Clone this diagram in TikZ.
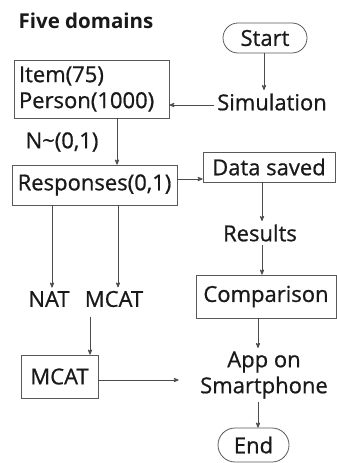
\documentclass[tikz,border=0pt]{standalone}
\usepackage{fontspec}
\setmainfont{Open Sans}[UprightFeatures={FakeBold=0.8}]
\usetikzlibrary{arrows}

\begin{document}
\begin{tikzpicture}[x=1pt,y=-1pt,
  every node/.style={font=\fontsize{22}{26}\selectfont, text=black!90},
  box/.style={draw=black!65, thick, inner sep=0pt},
  term/.style={draw=black!65, thick, rounded corners=15pt, inner sep=0pt},
  conn/.style={black!70, thick, ->, >=stealth'}]
\useasboundingbox (0,0) rectangle (337,463);
% left column
\node[font=\fontsize{20.5}{26}\selectfont\bfseries] (domains) at (86,21) {Five domains};
\node[box, minimum width=155, minimum height=58, text width=145, align=left] (item) at (91.5,89) {Item(75)\\Person(1000)};
\node (normal) at (62,142) {N\textasciitilde(0,1)};
\node[box, minimum width=165, minimum height=40] (resp) at (94.5,185) {Responses(0,1)};
\node (nat) at (49,299) {NAT};
\node (mcatt) at (114,299) {MCAT};
\node[box, minimum width=77, minimum height=43] (mcatb) at (59.5,376.5) {MCAT};
% right column
\node[term, minimum width=84, minimum height=30] (start) at (265,38) {Start};
\node (simul) at (272,102) {Simulation};
\node[box, minimum width=132, minimum height=30] (data) at (269,167) {Data saved};
\node (results) at (260,233) {Results};
\node[box, minimum width=140, minimum height=43] (comp) at (266,296.5) {Comparison};
\node[align=center] (app) at (264,375) {App on\\Smartphone};
\node[term, minimum width=71, minimum height=34, rounded corners=17pt] (end) at (253.5,445) {End};
% connectors
\draw[conn] ([xshift=-1]start.south) -- ([xshift=-1]start.south |- simul.north);
\draw[conn] ([yshift=-3]simul.west) -- ([yshift=-3]simul.west -| item.east);
\draw[conn] ([xshift=25.5]item.south) -- ([xshift=25.5]item.south |- resp.north);
\draw[conn] ([yshift=6]resp.east) -- ([yshift=6]resp.east -| data.west);
\draw[conn] ([xshift=-7]data.south) -- ([xshift=-7]data.south |- results.north);
\draw[conn] ([xshift=2]results.south) -- ([xshift=2]results.south |- comp.north);
\draw[conn] ([xshift=-42.5]resp.south) -- ([xshift=-42.5]resp.south |- nat.north);
\draw[conn] ([xshift=23.5]resp.south) -- ([xshift=23.5]resp.south |- mcatt.north);
\draw[conn] ([xshift=-24,yshift=-6]mcatt.south) -- ([xshift=-24]mcatt.south |- mcatb.north);
\draw[conn, shorten >=18pt] ([yshift=-3.5]mcatb.east) -- ([yshift=-3.5]mcatb.east -| app.west);
\draw[conn] ([xshift=-8]comp.south) -- ([xshift=-8]comp.south |- app.north);
\draw[conn] ([xshift=-6]app.south) -- ([xshift=-6]app.south |- end.north);
\end{tikzpicture}
\end{document}
